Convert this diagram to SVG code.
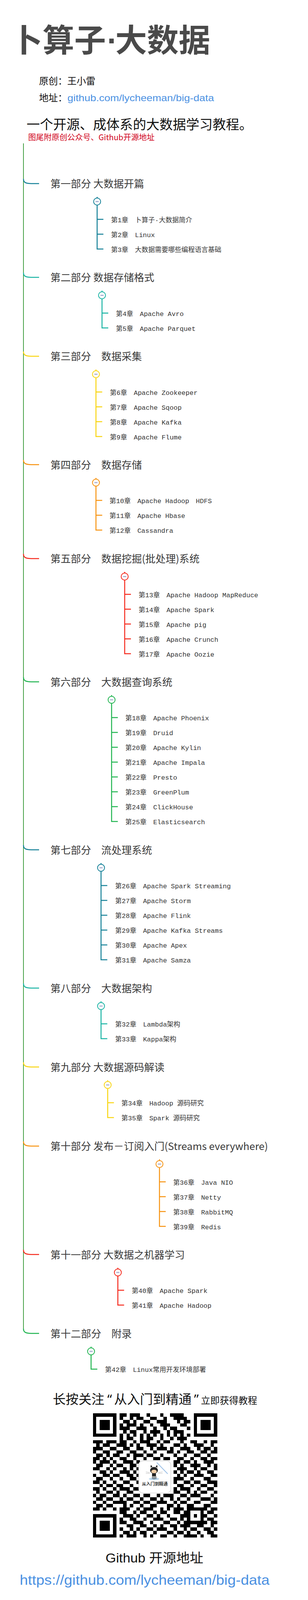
<svg xmlns="http://www.w3.org/2000/svg" width="788" height="4358" viewBox="0 0 788 4358">
<defs>
<style>
.s{font-family:"Noto Sans CJK SC","Noto Sans",sans-serif}
.pt{font-family:"Noto Sans CJK SC","Noto Sans",sans-serif;font-size:26px;fill:#3a3a3a}
.ch{font-family:"Liberation Mono","Noto Sans CJK SC",monospace;font-size:17px;fill:#333}
.lk{font-family:"Liberation Sans","Noto Sans CJK SC",sans-serif;fill:#4a90e2}
.bk{font-family:"Liberation Sans","Noto Sans CJK SC",sans-serif;fill:#111}
.cn{fill:none;stroke-width:2.5}
.k1{stroke:#138097}.k2{stroke:#19b4a4}.k3{stroke:#f9d511}.k4{stroke:#f7920f}.k5{stroke:#f5291c}.k6{stroke:#1fb44f}
.btn{fill:#fcfcfc;stroke-width:2}
.mn{fill:#8e95c6}
</style>
</defs>
<rect width="788" height="4358" fill="#fff"/>

<g id="header">
<text class="s" x="28" y="132" font-size="81" font-weight="700" fill="#4a4a4a">卜算子</text>
<text x="274" y="132" font-family="Liberation Sans,sans-serif" font-size="81" font-weight="700" fill="#4a4a4a">·</text>
<text class="s" x="295" y="132" font-size="81" font-weight="700" fill="#4a4a4a">大数据</text>
<text class="s" x="100" y="216" font-size="24" fill="#111">原创：王小雷</text>
<text class="s" x="100" y="259" font-size="24" fill="#111">地址：</text>
<text class="lk" x="172.5" y="259" font-size="24" textLength="375" lengthAdjust="spacingAndGlyphs">github.com/lycheeman/big-data</text>
<text class="s" x="68" y="331" font-size="34" fill="#111">一个开源、成体系的大数据学习教程。</text>
<text class="s" x="72" y="358.5" font-size="20" fill="#d0021b">图尾附原创公众号、Github开源地址</text>
</g>

<g id="connectors">
<path d="M60 367V3402" fill="none" stroke="#46a046" stroke-width="2"/>
<path class="cn k1" d="M60 458C60 467 66 470 80 470H100M248.5 504V507M248.5 525V637.5H264.5M248.5 561.5H264.5M248.5 599.5H264.5"/>
<path class="cn k2" d="M60 698C60 707 66 710 80 710H100M261 744V747M261 765V839.5H277M261 801.5H277"/>
<path class="cn k3" d="M60 900C60 909 66 912 80 912H100M245.5 946V949M245.5 967V1117.5H261.5M245.5 1003.5H261.5M245.5 1041.5H261.5M245.5 1079.5H261.5"/>
<path class="cn k4" d="M60 1177.5C60 1186.5 66 1189.5 80 1189.5H100M245.5 1223.5V1226.5M245.5 1244.5V1357H261.5M245.5 1281H261.5M245.5 1319H261.5"/>
<path class="cn k5" d="M60 1418C60 1427 66 1430 80 1430H100M319 1464V1467M319 1485V1673.5H335M319 1521.5H335M319 1559.5H335M319 1597.5H335M319 1635.5H335"/>
<path class="cn k6" d="M60 1733.5C60 1742.5 66 1745.5 80 1745.5H100M285.5 1779.5V1782.5M285.5 1800.5V2103H301.5M285.5 1837H301.5M285.5 1875H301.5M285.5 1913H301.5M285.5 1951H301.5M285.5 1989H301.5M285.5 2027H301.5M285.5 2065H301.5"/>
<path class="cn k1" d="M60 2163.5C60 2172.5 66 2175.5 80 2175.5H100M258.5 2209.5V2212.5M258.5 2230.5V2457H274.5M258.5 2267H274.5M258.5 2305H274.5M258.5 2343H274.5M258.5 2381H274.5M258.5 2419H274.5"/>
<path class="cn k2" d="M60 2517.5C60 2526.5 66 2529.5 80 2529.5H100M258.5 2563.5V2566.5M258.5 2584.5V2659H274.5M258.5 2621H274.5"/>
<path class="cn k3" d="M60 2719.5C60 2728.5 66 2731.5 80 2731.5H100M275.5 2765.5V2768.5M275.5 2786.5V2861H291.5M275.5 2823H291.5"/>
<path class="cn k4" d="M60 2922C60 2931 66 2934 80 2934H100M408 2968V2971M408 2989V3139.5H424M408 3025.5H424M408 3063.5H424M408 3101.5H424"/>
<path class="cn k5" d="M60 3199.5C60 3208.5 66 3211.5 80 3211.5H100M301.5 3245.5V3248.5M301.5 3266.5V3341H317.5M301.5 3303H317.5"/>
<path class="cn k6" d="M60 3401.5C60 3410.5 66 3413.5 80 3413.5H100M233 3447.5V3450.5M233 3468.5V3505H249"/>
</g>

<g id="part1">
<text class="pt" x="129" y="480">第一部分 大数据开篇</text>
<g id="btn1"><circle class="btn k1" cx="248.5" cy="516" r="9"/><rect class="mn" x="244.5" y="515" width="8" height="2"/></g>
<g id="ch1"><text class="ch" x="284" y="568.5">第1章　卜算子·大数据简介</text></g>
<g id="ch2"><text class="ch" x="284" y="606.5">第2章　Linux</text></g>
<g id="ch3"><text class="ch" x="284" y="644.5">第3章　大数据需要哪些编程语言基础</text></g>
</g>

<g id="part2">
<text class="pt" x="129" y="720">第二部分 数据存储格式</text>
<g id="btn2"><circle class="btn k2" cx="261" cy="756" r="9"/><rect class="mn" x="257" y="755" width="8" height="2"/></g>
<g id="ch4"><text class="ch" x="296.5" y="808.5">第4章　Apache Avro</text></g>
<g id="ch5"><text class="ch" x="296.5" y="846.5">第5章　Apache Parquet</text></g>
</g>

<g id="part3">
<text class="pt" x="129" y="922">第三部分　数据采集</text>
<g id="btn3"><circle class="btn k3" cx="245.5" cy="958" r="9"/><rect class="mn" x="241.5" y="957" width="8" height="2"/></g>
<g id="ch6"><text class="ch" x="281" y="1010.5">第6章　Apache Zookeeper</text></g>
<g id="ch7"><text class="ch" x="281" y="1048.5">第7章　Apache Sqoop</text></g>
<g id="ch8"><text class="ch" x="281" y="1086.5">第8章　Apache Kafka</text></g>
<g id="ch9"><text class="ch" x="281" y="1124.5">第9章　Apache Flume</text></g>
</g>

<g id="part4">
<text class="pt" x="129" y="1199.5">第四部分　数据存储</text>
<g id="btn4"><circle class="btn k4" cx="245.5" cy="1235.5" r="9"/><rect class="mn" x="241.5" y="1234.5" width="8" height="2"/></g>
<g id="ch10"><text class="ch" x="280" y="1288">第10章　Apache Hadoop　HDFS</text></g>
<g id="ch11"><text class="ch" x="280" y="1326">第11章　Apache Hbase</text></g>
<g id="ch12"><text class="ch" x="280" y="1364">第12章　Cassandra</text></g>
</g>

<g id="part5">
<text class="pt" x="129" y="1440">第五部分　数据挖掘(批处理)系统</text>
<g id="btn5"><circle class="btn k5" cx="319" cy="1476" r="9"/><rect class="mn" x="315" y="1475" width="8" height="2"/></g>
<g id="ch13"><text class="ch" x="354.5" y="1528.5">第13章　Apache Hadoop MapReduce</text></g>
<g id="ch14"><text class="ch" x="354.5" y="1566.5">第14章　Apache Spark</text></g>
<g id="ch15"><text class="ch" x="354.5" y="1604.5">第15章　Apache pig</text></g>
<g id="ch16"><text class="ch" x="354.5" y="1642.5">第16章　Apache Crunch</text></g>
<g id="ch17"><text class="ch" x="354.5" y="1680.5">第17章　Apache Oozie</text></g>
</g>

<g id="part6">
<text class="pt" x="129" y="1755.5">第六部分　大数据查询系统</text>
<g id="btn6"><circle class="btn k6" cx="285.5" cy="1791.5" r="9"/><rect class="mn" x="281.5" y="1790.5" width="8" height="2"/></g>
<g id="ch18"><text class="ch" x="320.5" y="1844">第18章　Apache Phoenix</text></g>
<g id="ch19"><text class="ch" x="320.5" y="1882">第19章　Druid</text></g>
<g id="ch20"><text class="ch" x="320.5" y="1920">第20章　Apache Kylin</text></g>
<g id="ch21"><text class="ch" x="320.5" y="1958">第21章　Apache Impala</text></g>
<g id="ch22"><text class="ch" x="320.5" y="1996">第22章　Presto</text></g>
<g id="ch23"><text class="ch" x="320.5" y="2034">第23章　GreenPlum</text></g>
<g id="ch24"><text class="ch" x="320.5" y="2072">第24章　ClickHouse</text></g>
<g id="ch25"><text class="ch" x="320.5" y="2110">第25章　Elasticsearch</text></g>
</g>

<g id="part7">
<text class="pt" x="129" y="2185.5">第七部分　流处理系统</text>
<g id="btn7"><circle class="btn k1" cx="258.5" cy="2221.5" r="9"/><rect class="mn" x="254.5" y="2220.5" width="8" height="2"/></g>
<g id="ch26"><text class="ch" x="294.5" y="2274">第26章　Apache Spark Streaming</text></g>
<g id="ch27"><text class="ch" x="294.5" y="2312">第27章　Apache Storm</text></g>
<g id="ch28"><text class="ch" x="294.5" y="2350">第28章　Apache Flink</text></g>
<g id="ch29"><text class="ch" x="294.5" y="2388">第29章　Apache Kafka Streams</text></g>
<g id="ch30"><text class="ch" x="294.5" y="2426">第30章　Apache Apex</text></g>
<g id="ch31"><text class="ch" x="294.5" y="2464">第31章　Apache Samza</text></g>
</g>

<g id="part8">
<text class="pt" x="129" y="2539.5">第八部分　大数据架构</text>
<g id="btn8"><circle class="btn k2" cx="258.5" cy="2575.5" r="9"/><rect class="mn" x="254.5" y="2574.5" width="8" height="2"/></g>
<g id="ch32"><text class="ch" x="294.5" y="2628">第32章　Lambda架构</text></g>
<g id="ch33"><text class="ch" x="294.5" y="2666">第33章　Kappa架构</text></g>
</g>

<g id="part9">
<text class="pt" x="129" y="2741.5">第九部分 大数据源码解读</text>
<g id="btn9"><circle class="btn k3" cx="275.5" cy="2777.5" r="9"/><rect class="mn" x="271.5" y="2776.5" width="8" height="2"/></g>
<g id="ch34"><text class="ch" x="310.5" y="2830">第34章　Hadoop 源码研究</text></g>
<g id="ch35"><text class="ch" x="310.5" y="2868">第35章　Spark 源码研究</text></g>
</g>

<g id="part10">
<text class="pt" x="129" y="2944">第十部分 发布－订阅入门(Streams everywhere)</text>
<g id="btn10"><circle class="btn k4" cx="408" cy="2980" r="9"/><rect class="mn" x="404" y="2979" width="8" height="2"/></g>
<g id="ch36"><text class="ch" x="443" y="3032.5">第36章　Java NIO</text></g>
<g id="ch37"><text class="ch" x="443" y="3070.5">第37章　Netty</text></g>
<g id="ch38"><text class="ch" x="443" y="3108.5">第38章　RabbitMQ</text></g>
<g id="ch39"><text class="ch" x="443" y="3146.5">第39章　Redis</text></g>
</g>

<g id="part11">
<text class="pt" x="129" y="3221.5">第十一部分 大数据之机器学习</text>
<g id="btn11"><circle class="btn k5" cx="301.5" cy="3257.5" r="9"/><rect class="mn" x="297.5" y="3256.5" width="8" height="2"/></g>
<g id="ch40"><text class="ch" x="337" y="3310">第40章　Apache Spark</text></g>
<g id="ch41"><text class="ch" x="337" y="3348">第41章　Apache Hadoop</text></g>
</g>

<g id="part12">
<text class="pt" x="129" y="3423.5">第十二部分　附录</text>
<g id="btn12"><circle class="btn k6" cx="233" cy="3459.5" r="9"/><rect class="mn" x="229" y="3458.5" width="8" height="2"/></g>
<g id="ch42"><text class="ch" x="268.5" y="3512">第42章　Linux常用开发环境部署</text></g>
</g>

<g id="footer">
<text class="s" y="3594" fill="#111"><tspan x="135" font-size="33">长按关注</tspan><tspan x="274.5" font-size="33" font-family="Noto Sans,sans-serif">“</tspan><tspan x="292" font-size="33">从入门到精通</tspan><tspan x="496.5" font-size="33" font-family="Noto Sans,sans-serif">”</tspan><tspan x="514" font-size="24">立即获得教程</tspan></text>

<g id="qr" transform="translate(237.5 3618) scale(8.6)" shape-rendering="crispEdges" fill="#000">
<path fill-rule="evenodd" d="M0 0h7v7h-7zM1 1h5v5h-5zM2 2h3v3h-3zM30 0h7v7h-7zM31 1h5v5h-5zM32 2h3v3h-3zM0 30h7v7h-7zM1 31h5v5h-5zM2 32h3v3h-3zM28 28h5v5h-5zM29 29h3v3h-3zM30 30h1v1h-1z"/>
<path d="M8 0h2v1h-2zM11 0h3v1h-3zM16 0h1v1h-1zM20 0h1v1h-1zM23 0h4v1h-4zM8 1h1v1h-1zM11 1h1v1h-1zM13 1h2v1h-2zM17 1h2v1h-2zM21 1h1v1h-1zM24 1h4v1h-4zM9 2h2v1h-2zM12 2h1v1h-1zM15 2h2v1h-2zM19 2h3v1h-3zM25 2h1v1h-1zM27 2h2v1h-2zM8 3h1v1h-1zM10 3h3v1h-3zM14 3h1v1h-1zM17 3h1v1h-1zM20 3h3v1h-3zM26 3h2v1h-2zM8 4h3v1h-3zM13 4h3v1h-3zM18 4h1v1h-1zM21 4h1v1h-1zM23 4h2v1h-2zM28 4h1v1h-1zM9 5h1v1h-1zM11 5h2v1h-2zM15 5h1v1h-1zM17 5h3v1h-3zM22 5h1v1h-1zM24 5h3v1h-3zM8 6h1v1h-1zM10 6h1v1h-1zM12 6h1v1h-1zM14 6h1v1h-1zM16 6h1v1h-1zM18 6h1v1h-1zM20 6h1v1h-1zM22 6h1v1h-1zM24 6h1v1h-1zM26 6h1v1h-1zM28 6h1v1h-1zM8 7h1v1h-1zM10 7h2v1h-2zM14 7h1v1h-1zM16 7h2v1h-2zM20 7h1v1h-1zM23 7h1v1h-1zM25 7h3v1h-3zM0 8h3v1h-3zM4 8h3v1h-3zM8 8h2v1h-2zM12 8h1v1h-1zM14 8h3v1h-3zM19 8h1v1h-1zM21 8h2v1h-2zM26 8h1v1h-1zM29 8h2v1h-2zM33 8h1v1h-1zM35 8h2v1h-2zM1 9h1v1h-1zM3 9h2v1h-2zM7 9h3v1h-3zM11 9h1v1h-1zM13 9h1v1h-1zM16 9h3v1h-3zM20 9h1v1h-1zM24 9h2v1h-2zM27 9h1v1h-1zM30 9h3v1h-3zM35 9h1v1h-1zM0 10h3v1h-3zM5 10h2v1h-2zM9 10h2v1h-2zM13 10h2v1h-2zM17 10h1v1h-1zM19 10h3v1h-3zM23 10h1v1h-1zM26 10h3v1h-3zM31 10h1v1h-1zM33 10h2v1h-2zM36 10h1v1h-1zM0 11h1v1h-1zM3 11h2v1h-2zM7 11h2v1h-2zM11 11h2v1h-2zM15 11h1v1h-1zM18 11h1v1h-1zM22 11h2v1h-2zM25 11h1v1h-1zM28 11h2v1h-2zM32 11h2v1h-2zM35 11h2v1h-2zM1 12h2v1h-2zM4 12h1v1h-1zM6 12h2v1h-2zM10 12h1v1h-1zM12 12h3v1h-3zM16 12h2v1h-2zM20 12h1v1h-1zM24 12h1v1h-1zM27 12h1v1h-1zM30 12h2v1h-2zM34 12h1v1h-1zM0 13h2v1h-2zM3 13h1v1h-1zM5 13h1v1h-1zM8 13h2v1h-2zM12 13h1v1h-1zM15 13h1v1h-1zM18 13h2v1h-2zM21 13h2v1h-2zM25 13h2v1h-2zM29 13h1v1h-1zM32 13h2v1h-2zM35 13h2v1h-2zM0 14h1v1h-1zM2 14h3v1h-3zM6 14h1v1h-1zM9 14h3v1h-3zM13 14h1v1h-1zM24 14h2v1h-2zM27 14h2v1h-2zM30 14h1v1h-1zM33 14h3v1h-3zM1 15h2v1h-2zM5 15h1v1h-1zM7 15h2v1h-2zM11 15h2v1h-2zM24 15h1v1h-1zM26 15h1v1h-1zM29 15h3v1h-3zM34 15h1v1h-1zM36 15h1v1h-1zM0 16h2v1h-2zM4 16h1v1h-1zM6 16h1v1h-1zM9 16h1v1h-1zM11 16h1v1h-1zM13 16h1v1h-1zM25 16h3v1h-3zM30 16h1v1h-1zM32 16h2v1h-2zM36 16h1v1h-1zM2 17h2v1h-2zM5 17h1v1h-1zM8 17h3v1h-3zM12 17h1v1h-1zM24 17h1v1h-1zM26 17h1v1h-1zM28 17h2v1h-2zM31 17h1v1h-1zM34 17h2v1h-2zM0 18h1v1h-1zM3 18h2v1h-2zM6 18h2v1h-2zM10 18h2v1h-2zM13 18h1v1h-1zM25 18h1v1h-1zM27 18h1v1h-1zM30 18h3v1h-3zM35 18h2v1h-2zM1 19h2v1h-2zM5 19h1v1h-1zM8 19h1v1h-1zM11 19h2v1h-2zM24 19h3v1h-3zM29 19h1v1h-1zM33 19h2v1h-2zM0 20h2v1h-2zM3 20h1v1h-1zM6 20h1v1h-1zM9 20h2v1h-2zM13 20h1v1h-1zM24 20h1v1h-1zM27 20h2v1h-2zM30 20h2v1h-2zM34 20h3v1h-3zM2 21h1v1h-1zM4 21h2v1h-2zM7 21h2v1h-2zM11 21h1v1h-1zM25 21h2v1h-2zM29 21h1v1h-1zM32 21h2v1h-2zM36 21h1v1h-1zM0 22h2v1h-2zM3 22h1v1h-1zM6 22h1v1h-1zM8 22h3v1h-3zM12 22h2v1h-2zM24 22h1v1h-1zM26 22h3v1h-3zM31 22h1v1h-1zM34 22h2v1h-2zM1 23h1v1h-1zM4 23h2v1h-2zM7 23h1v1h-1zM10 23h2v1h-2zM24 23h2v1h-2zM28 23h1v1h-1zM30 23h1v1h-1zM32 23h2v1h-2zM36 23h1v1h-1zM0 24h1v1h-1zM2 24h2v1h-2zM6 24h2v1h-2zM9 24h1v1h-1zM12 24h2v1h-2zM15 24h2v1h-2zM19 24h1v1h-1zM21 24h3v1h-3zM26 24h2v1h-2zM29 24h3v1h-3zM35 24h1v1h-1zM1 25h2v1h-2zM4 25h2v1h-2zM8 25h1v1h-1zM10 25h2v1h-2zM14 25h1v1h-1zM17 25h2v1h-2zM20 25h1v1h-1zM23 25h1v1h-1zM25 25h1v1h-1zM28 25h1v1h-1zM32 25h3v1h-3zM36 25h1v1h-1zM0 26h1v1h-1zM3 26h1v1h-1zM6 26h4v1h-4zM12 26h2v1h-2zM15 26h2v1h-2zM19 26h3v1h-3zM24 26h1v1h-1zM26 26h2v1h-2zM30 26h2v1h-2zM35 26h2v1h-2zM1 27h2v1h-2zM4 27h2v1h-2zM9 27h1v1h-1zM11 27h1v1h-1zM14 27h1v1h-1zM17 27h2v1h-2zM22 27h2v1h-2zM25 27h1v1h-1zM28 27h2v1h-2zM33 27h2v1h-2zM0 28h2v1h-2zM3 28h1v1h-1zM6 28h1v1h-1zM8 28h3v1h-3zM13 28h1v1h-1zM15 28h3v1h-3zM20 28h1v1h-1zM22 28h1v1h-1zM24 28h3v1h-3zM33 28h1v1h-1zM35 28h2v1h-2zM8 29h2v1h-2zM12 29h1v1h-1zM14 29h2v1h-2zM18 29h1v1h-1zM20 29h2v1h-2zM24 29h2v1h-2zM27 29h1v1h-1zM34 29h2v1h-2zM9 30h3v1h-3zM13 30h1v1h-1zM16 30h2v1h-2zM19 30h1v1h-1zM22 30h1v1h-1zM26 30h2v1h-2zM33 30h1v1h-1zM36 30h1v1h-1zM8 31h1v1h-1zM11 31h2v1h-2zM15 31h1v1h-1zM18 31h3v1h-3zM23 31h2v1h-2zM26 31h1v1h-1zM34 31h2v1h-2zM8 32h2v1h-2zM12 32h3v1h-3zM17 32h1v1h-1zM21 32h2v1h-2zM25 32h1v1h-1zM27 32h1v1h-1zM33 32h1v1h-1zM35 32h2v1h-2zM10 33h2v1h-2zM14 33h2v1h-2zM18 33h1v1h-1zM20 33h1v1h-1zM23 33h2v1h-2zM26 33h3v1h-3zM31 33h2v1h-2zM35 33h1v1h-1zM8 34h1v1h-1zM11 34h1v1h-1zM13 34h1v1h-1zM16 34h2v1h-2zM19 34h3v1h-3zM24 34h1v1h-1zM27 34h1v1h-1zM29 34h2v1h-2zM33 34h2v1h-2zM36 34h1v1h-1zM9 35h2v1h-2zM12 35h1v1h-1zM14 35h2v1h-2zM18 35h1v1h-1zM22 35h2v1h-2zM25 35h2v1h-2zM28 35h1v1h-1zM31 35h1v1h-1zM34 35h2v1h-2zM8 36h1v1h-1zM10 36h3v1h-3zM15 36h1v1h-1zM17 36h1v1h-1zM20 36h2v1h-2zM24 36h1v1h-1zM27 36h4v1h-4zM32 36h1v1h-1zM35 36h2v1h-2z"/>
</g>

<g id="qr-logo">
<rect x="355" y="3740" width="82" height="82" rx="10" fill="#fff" stroke="#d8d8d8" stroke-width="1.5"/>
<line x1="401" y1="3744" x2="429" y2="3773" stroke="#9cc0e6" stroke-width="2"/>
<ellipse cx="394" cy="3786" rx="13" ry="3.5" fill="#bcd9f0"/>
<path d="M385 3757L386 3750L390 3755ZM403 3757L402 3750L398 3755Z" fill="#222"/>
<ellipse cx="394" cy="3764" rx="10" ry="8.5" fill="#222"/>
<ellipse cx="394" cy="3767" rx="7" ry="4.5" fill="#f3cda6"/>
<path d="M389 3772h10v7h-10z" fill="#222"/>
<path d="M390 3779v7M393 3779v8M396 3779v8M399 3779v7" stroke="#222" stroke-width="1.2"/>
<path d="M373 3768l10 2M373 3772l10 0M405 3770l11 -2M405 3772l11 0" stroke="#aaa" stroke-width="0.8"/>
<text class="s" x="396" y="3803" font-size="11" font-weight="700" fill="#333" text-anchor="middle">从入门到精通</text>
</g>

<text class="bk" x="270" y="3999.5" font-size="33" textLength="250" lengthAdjust="spacingAndGlyphs">Github 开源地址</text>
<text class="lk" x="50.5" y="4057" font-size="35" textLength="639" lengthAdjust="spacingAndGlyphs">https://github.com/lycheeman/big-data</text>
<text class="bk" x="268" y="4156" font-size="33" textLength="240" lengthAdjust="spacingAndGlyphs">CSDN 博客地址</text>
<text class="lk" x="144" y="4207" font-size="35" textLength="504" lengthAdjust="spacingAndGlyphs">https://blog.csdn.net/dream_an</text>
<text class="s" y="4297" font-size="40" fill="#d0021b"><tspan x="256">【</tspan><tspan x="294.5">长按</tspan><tspan x="374" font-family="Noto Sans,sans-serif">“</tspan><tspan x="393">收藏</tspan><tspan x="474" font-family="Noto Sans,sans-serif">”</tspan><tspan x="494">】</tspan></text>
</g>
</svg>
